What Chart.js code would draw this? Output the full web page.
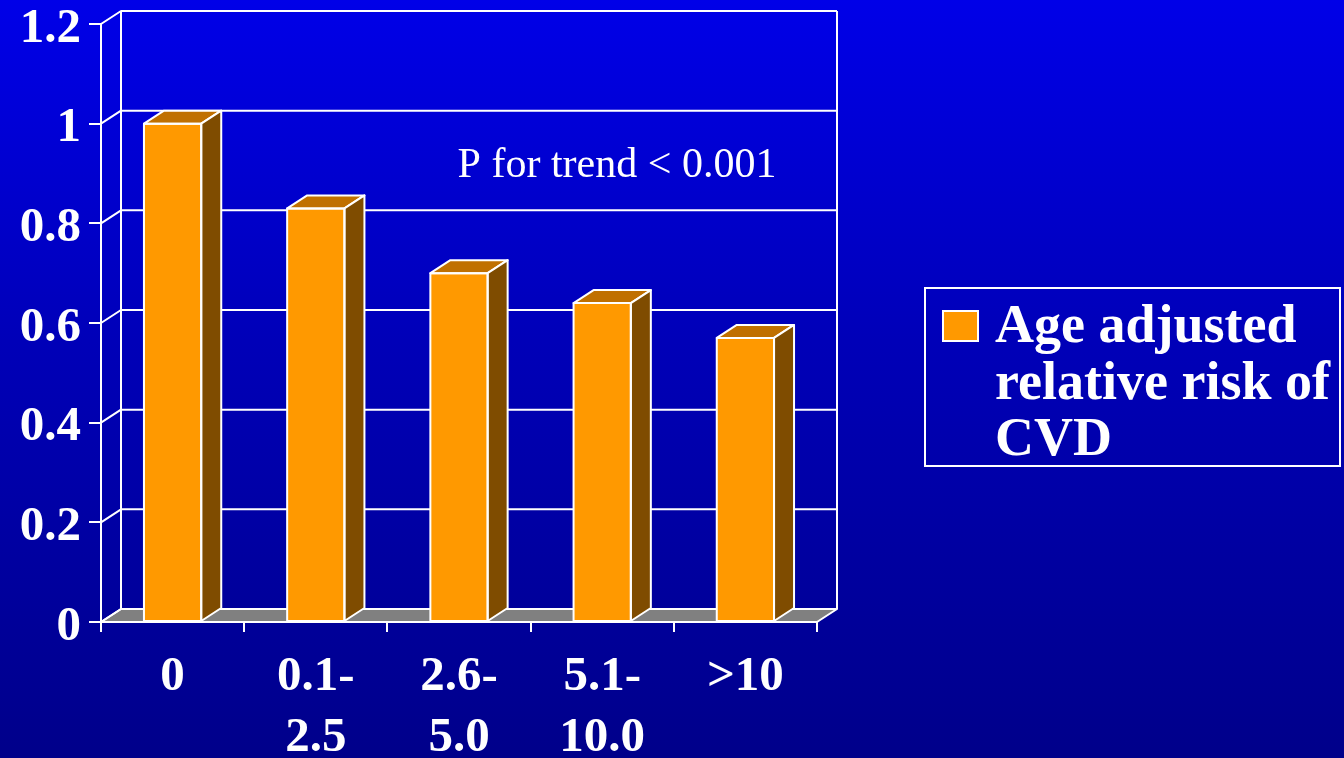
<!DOCTYPE html>
<html>
<head>
<meta charset="utf-8">
<script src="https://cdn.jsdelivr.net/npm/chart.js@4.4.1/dist/chart.umd.min.js"></script>
<style>
  html, body {
    margin: 0; padding: 0; width: 1344px; height: 758px; overflow: hidden;
    background: linear-gradient(to bottom, #0000e8 0%, #0000b8 45%, #00008a 100%);
  }
  #wrap { position: absolute; left: 0; top: 0; width: 1344px; height: 758px; }
</style>
</head>
<body>
<div id="wrap"><canvas id="c" width="1344" height="758"></canvas></div>
<script>
// Alcohol intake groups (g/day) and the age adjusted relative risk of CVD
const categories = [["0"], ["0.1-", "2.5"], ["2.6-", "5.0"], ["5.1-", "10.0"], [">10"]];
const riskValues = [1.0, 0.83, 0.70, 0.64, 0.57];
const yTickValues = [0, 0.2, 0.4, 0.6, 0.8, 1.0, 1.2];
const yTickLabels = ["0", "0.2", "0.4", "0.6", "0.8", "1", "1.2"];
const seriesLines = ["Age adjusted", "relative risk of", "CVD"];
const trendNote = "P for trend < 0.001";

const SERIF = '"Liberation Serif", "Times New Roman", serif';
const DEPTH_X = 20, DEPTH_Y = -13;
const ORANGE = '#ff9900', ORANGE_TOP = '#c07000', ORANGE_SIDE = '#7f4c00';

// Back wall, side wall and floor of the 3-D plot box
const boxPlugin = {
  id: 'box3d',
  beforeDatasetsDraw(chart) {
    const { ctx, chartArea: a, scales: { y } } = chart;
    const y0 = y.getPixelForValue(0);
    ctx.save();
    // floor
    ctx.beginPath();
    ctx.moveTo(a.left, y0);
    ctx.lineTo(a.right, y0);
    ctx.lineTo(a.right + DEPTH_X, y0 + DEPTH_Y);
    ctx.lineTo(a.left + DEPTH_X, y0 + DEPTH_Y);
    ctx.closePath();
    ctx.fillStyle = '#808080';
    ctx.fill();
    ctx.strokeStyle = '#ffffff';
    ctx.lineWidth = 2;
    ctx.lineJoin = 'round';
    ctx.stroke();
    // gridlines across the side wall and back wall
    yTickValues.forEach(v => {
      const py = y.getPixelForValue(v);
      ctx.beginPath();
      ctx.moveTo(a.left, py);
      ctx.lineTo(a.left + DEPTH_X, py + DEPTH_Y);
      ctx.lineTo(a.right + DEPTH_X, py + DEPTH_Y);
      ctx.stroke();
    });
    // back wall verticals
    const yTop = y.getPixelForValue(yTickValues[yTickValues.length - 1]) + DEPTH_Y;
    ctx.beginPath();
    ctx.moveTo(a.left + DEPTH_X, yTop);
    ctx.lineTo(a.left + DEPTH_X, y0 + DEPTH_Y);
    ctx.moveTo(a.right + DEPTH_X, yTop);
    ctx.lineTo(a.right + DEPTH_X, y0 + DEPTH_Y);
    ctx.stroke();
    ctx.restore();
  },
  afterDatasetsDraw(chart) {
    const { ctx } = chart;
    const meta = chart.getDatasetMeta(0);
    ctx.save();
    ctx.strokeStyle = '#ffffff';
    ctx.lineWidth = 2;
    ctx.lineJoin = 'round';
    meta.data.forEach(bar => {
      const l = bar.x - bar.width / 2, r = bar.x + bar.width / 2;
      const t = bar.y, b = bar.base;
      // top face
      ctx.beginPath();
      ctx.moveTo(l, t);
      ctx.lineTo(l + DEPTH_X, t + DEPTH_Y);
      ctx.lineTo(r + DEPTH_X, t + DEPTH_Y);
      ctx.lineTo(r, t);
      ctx.closePath();
      ctx.fillStyle = ORANGE_TOP;
      ctx.fill();
      ctx.stroke();
      // side face
      ctx.beginPath();
      ctx.moveTo(r, t);
      ctx.lineTo(r + DEPTH_X, t + DEPTH_Y);
      ctx.lineTo(r + DEPTH_X, b + DEPTH_Y);
      ctx.lineTo(r, b);
      ctx.closePath();
      ctx.fillStyle = ORANGE_SIDE;
      ctx.fill();
      ctx.stroke();
      // front face outline
      ctx.strokeRect(l, t, r - l, b - t);
    });
    ctx.restore();
  },
  afterDraw(chart) {
    const { ctx } = chart;
    ctx.save();
    // trend annotation
    ctx.fillStyle = '#ffffff';
    ctx.font = '42px ' + SERIF;
    ctx.textAlign = 'center';
    ctx.textBaseline = 'alphabetic';
    ctx.fillText(trendNote, 617, 177);
    // legend box
    ctx.strokeStyle = '#ffffff';
    ctx.lineWidth = 2;
    ctx.strokeRect(925, 288, 415, 178);
    ctx.fillStyle = ORANGE;
    ctx.fillRect(943, 311, 35, 30);
    ctx.strokeRect(943, 311, 35, 30);
    ctx.fillStyle = '#ffffff';
    ctx.font = 'bold 54px ' + SERIF;
    ctx.textAlign = 'left';
    seriesLines.forEach((line, i) => ctx.fillText(line, 995, 342 + i * 56.5));
    ctx.restore();
  }
};

new Chart(document.getElementById('c'), {
  type: 'bar',
  data: {
    labels: categories,
    datasets: [{
      label: seriesLines.join(' '),
      data: riskValues,
      backgroundColor: ORANGE,
      borderColor: '#ffffff',
      borderWidth: 0,
      borderSkipped: false,
      barPercentage: 0.4,
      categoryPercentage: 1.0
    }]
  },
  options: {
    responsive: false,
    animation: false,
    devicePixelRatio: 1,
    layout: { padding: { left: 0, right: 527, top: 24, bottom: 0 } },
    plugins: { legend: { display: false }, tooltip: { enabled: false } },
    scales: {
      x: {
        offset: true,
        grid: { offset: true, drawOnChartArea: false, color: '#ffffff', lineWidth: 2, tickLength: 10 },
        border: { display: true, color: '#ffffff', width: 2 },
        ticks: {
          color: '#ffffff',
          padding: 15,
          maxRotation: 0,
          autoSkip: false,
          font: { family: SERIF, size: 49, weight: 'bold', lineHeight: 1.245 }
        },
        afterFit(scale) {
          scale.height = 136;
          scale.paddingLeft = 0;
          scale.paddingRight = 0;
        }
      },
      y: {
        min: 0,
        max: 1.2,
        afterBuildTicks(scale) { scale.ticks = yTickValues.map(v => ({ value: v })); },
        grid: { drawOnChartArea: false, color: '#ffffff', lineWidth: 2, tickLength: 12 },
        border: { display: true, color: '#ffffff', width: 2 },
        ticks: {
          color: '#ffffff',
          padding: 8,
          labelOffset: 5,
          font: { family: SERIF, size: 49, weight: 'bold', lineHeight: 0.9 },
          callback(value) {
            const i = yTickValues.findIndex(v => Math.abs(v - value) < 1e-9);
            return i >= 0 ? yTickLabels[i] : '';
          }
        },
        afterFit(scale) {
          scale.width = 101;
          scale.paddingTop = 0;
          scale.paddingBottom = 0;
        }
      }
    }
  },
  plugins: [boxPlugin]
});
</script>
</body>
</html>
